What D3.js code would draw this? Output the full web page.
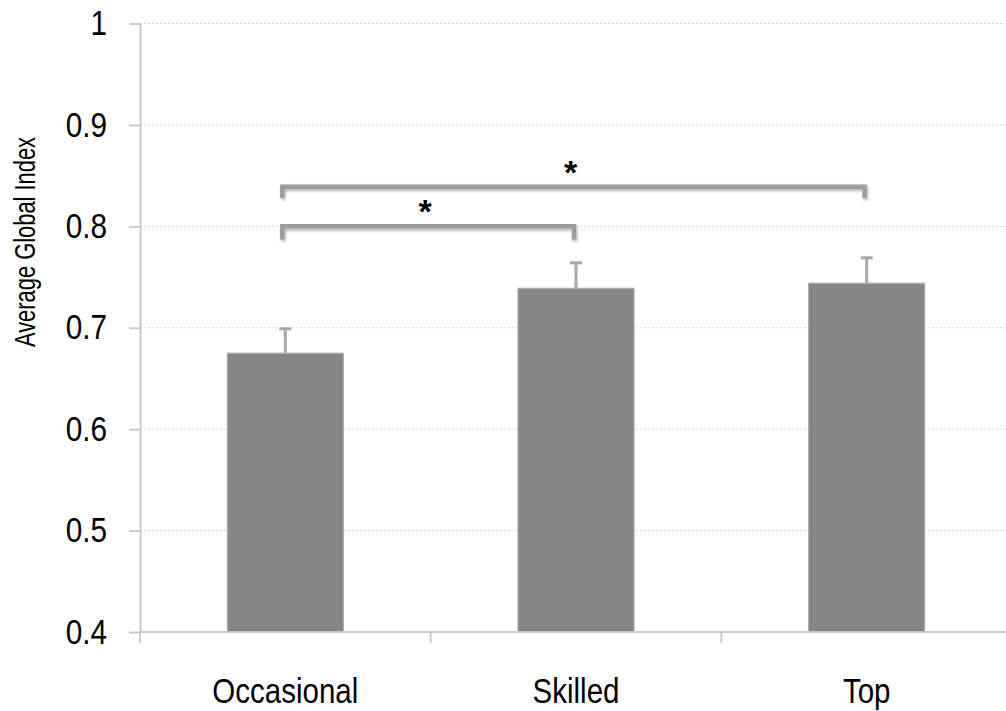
<!DOCTYPE html>
<html>
<head>
<meta charset="utf-8">
<script src="https://cdn.jsdelivr.net/npm/d3@7.9.0/dist/d3.min.js"></script>
<style>
  body { margin: 0; background: #fff; }
  svg { display: block; font-family: "Liberation Sans", Arial, sans-serif; }
</style>
</head>
<body>
<svg id="chart" width="1006" height="711"></svg>
<script>
const categories = ['Occasional', 'Skilled', 'Top'];
const means = [0.675, 0.739, 0.744];
const errors = [0.024, 0.025, 0.025];
const yTicks = [0.4, 0.5, 0.6, 0.7, 0.8, 0.9, 1];
const yTickLabels = ['0.4', '0.5', '0.6', '0.7', '0.8', '0.9', '1'];
// significance brackets: from / to category, level of the bar, level of the feet
const bracketFrom = ['Occasional', 'Occasional'];
const bracketTo = ['Skilled', 'Top'];
const bracketLevel = [0.800, 0.839];
const bracketFoot = [0.787, 0.828];
const bracketMark = ['*', '*'];

const svg = d3.select('#chart');
const plotLeft = 140, plotTop = 23.5, plotBottom = 632, plotRight = 1012;

let x = d3.scaleBand().domain(categories).range([plotLeft, plotRight])
  .paddingInner(0.6).paddingOuter(0.3);
let y = d3.scaleLinear().domain([0.4, 1]).range([plotBottom, plotTop]);

// shadow for the brackets
const defs = svg.append('defs');
const f = defs.append('filter').attr('id', 'shadow')
  .attr('x', '-5%').attr('y', '-50%').attr('width', '110%').attr('height', '200%');
f.append('feDropShadow').attr('dx', 1).attr('dy', 2).attr('stdDeviation', 1.5)
  .attr('flood-color', '#000').attr('flood-opacity', 0.3);

// grid lines
svg.append('g').selectAll('line')
  .data(yTicks.filter((t) => t > 0.4))
  .join('line')
  .attr('x1', plotLeft).attr('x2', 1006)
  .attr('y1', (d) => y(d)).attr('y2', (d) => y(d))
  .attr('stroke', '#d4d4d4').attr('stroke-width', 1)
  .attr('stroke-dasharray', '2,2');

// bars
svg.append('g').selectAll('rect')
  .data(categories)
  .join('rect')
  .attr('x', (d) => x(d))
  .attr('y', (d, i) => y(means[i]))
  .attr('width', x.bandwidth())
  .attr('height', (d, i) => plotBottom - y(means[i]))
  .attr('fill', '#868686')
  .attr('stroke', '#b4b4b4').attr('stroke-width', 1);

// error bars
const eb = svg.append('g').attr('stroke', '#a8a8a8');
categories.forEach((c, i) => {
  let cx = x(c) + x.bandwidth() / 2;
  eb.append('line')
    .attr('x1', cx).attr('x2', cx)
    .attr('y1', y(means[i])).attr('y2', y(means[i] + errors[i]))
    .attr('stroke-width', 3);
  eb.append('line')
    .attr('x1', cx - 6).attr('x2', cx + 6)
    .attr('y1', y(means[i] + errors[i])).attr('y2', y(means[i] + errors[i]))
    .attr('stroke-width', 3);
});

// y axis
let yAxis = d3.axisLeft(y).tickValues(yTicks)
  .tickFormat((d, i) => yTickLabels[i])
  .tickSize(11).tickSizeOuter(0).tickPadding(22);
let gy = svg.append('g').attr('transform', `translate(${plotLeft},0)`).call(yAxis);
gy.select('.domain').attr('stroke', '#c8c8c8').attr('stroke-width', 2);
gy.selectAll('.tick line').attr('stroke', '#c8c8c8').attr('stroke-width', 2);
gy.selectAll('.tick text')
  .attr('x', null)
  .attr('transform', 'translate(-33,0) scale(0.85,1)')
  .attr('font-size', 35).attr('fill', '#000')
  .attr('font-family', '"Liberation Sans", Arial, sans-serif');

// x axis: ticks on the slot boundaries
let bounds = d3.range(categories.length + 1).map((i) => plotLeft + i * x.step());
let xb = svg.append('g');
xb.append('line')
  .attr('x1', plotLeft).attr('x2', 1006)
  .attr('y1', plotBottom).attr('y2', plotBottom)
  .attr('stroke', '#c8c8c8').attr('stroke-width', 2);
xb.selectAll('.xt')
  .data(bounds)
  .join('line')
  .attr('class', 'xt')
  .attr('x1', (d) => d).attr('x2', (d) => d)
  .attr('y1', plotBottom).attr('y2', plotBottom + 11)
  .attr('stroke', '#c8c8c8').attr('stroke-width', 2);
xb.selectAll('text')
  .data(categories)
  .join('text')
  .attr('transform', (d) => `translate(${x(d) + x.bandwidth() / 2},703) scale(0.82,1)`)
  .attr('text-anchor', 'middle')
  .attr('font-size', 36)
  .text((d) => d);

// y axis title
svg.append('text')
  .attr('transform', 'translate(35,242) rotate(-90) scale(0.73,1)')
  .attr('text-anchor', 'middle')
  .attr('font-size', 30)
  .text('Average Global Index');

// significance brackets
const br = svg.append('g');
bracketFrom.forEach((from, i) => {
  let x1 = x(from) + x.bandwidth() / 2 - 3;
  let x2 = x(bracketTo[i]) + x.bandwidth() / 2 - 2;
  br.append('path')
    .attr('d', `M${x1},${y(bracketFoot[i])}V${y(bracketLevel[i])}H${x2}V${y(bracketFoot[i])}`)
    .attr('fill', 'none')
    .attr('stroke', '#9c9c9c').attr('stroke-width', 4.5)
    .attr('filter', 'url(#shadow)');
  br.append('text')
    .attr('x', (x1 + x2) / 2 - 3)
    .attr('y', y(bracketLevel[i]) - 3)
    .attr('text-anchor', 'middle')
    .attr('font-size', 34).attr('font-weight', 'bold')
    .text(bracketMark[i]);
});
</script>
</body>
</html>
